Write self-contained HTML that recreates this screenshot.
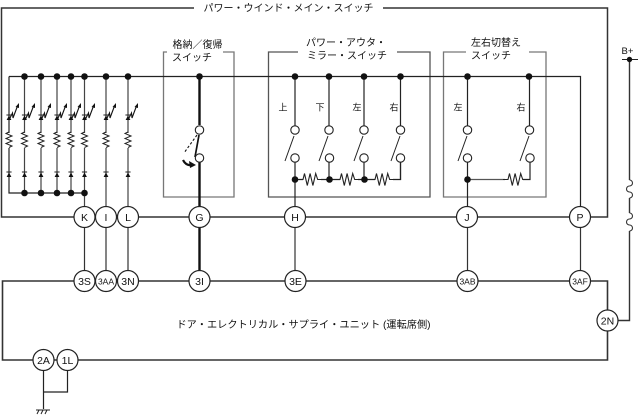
<!DOCTYPE html>
<html lang="ja"><head><meta charset="utf-8"><style>
html,body{margin:0;padding:0;background:#fff}
svg{display:block}
text{font-family:"Liberation Sans","Noto Sans CJK JP",sans-serif;fill:#111}
.t{font-size:10px;text-anchor:middle}
.b{font-size:10.2px;text-anchor:middle}
.s{font-size:9px;text-anchor:middle}
.n{font-size:10.5px;text-anchor:middle}
.n2{font-size:8.5px;text-anchor:middle}
</style></head><body>
<svg width="638" height="416" viewBox="0 0 638 416" xmlns="http://www.w3.org/2000/svg">
<defs>
<g id="led">
<path d="M0 -2.5 L-2.4 2 H2.4Z" fill="#111" stroke="none"/>
<path d="M-2.6 -3 H2.6" stroke="#222" stroke-width="1" fill="none"/>
</g>
<g id="var">
<path d="M0 0 L3.5 -7 L4 -2 L7 -10 L8.5 -14" fill="none" stroke="#111" stroke-width="1.1"/>
<path d="M10 -17 L6.5 -13 L10 -12Z" fill="#111"/>
</g>
<path id="rv" d="M0 0 l-3 1.5 l6 2.5 l-6 2.5 l6 2.5 l-6 2.5 l6 2.5 l-3 1.5" fill="none" stroke="#222" stroke-width="1"/>
<path id="rh" d="M0 0 h5 l1.5 -6 l2.8 12 l2.8 -12 l2.8 12 l2.8 -12 l2 6 h5" fill="none" stroke="#222" stroke-width="1.1"/>
<path id="coil" d="M0 0 a3 3 0 1 1 0 6 a3 3 0 1 0 0 6 a3 3 0 1 1 0 6" fill="none" stroke="#333" stroke-width="1.1"/>
</defs>

<g fill="none" stroke="#333" stroke-width="1.3">
<!-- outer frame -->
<path d="M194 8 H1.5 V217 H607.5 V8 H383" stroke-width="1.5"/>
<!-- sub boxes -->
<path d="M167 52 H163.5 V197 H234 V52 H223" stroke="#777"/>
<path d="M298 52 H268.5 V197 H430 V52 H397" stroke="#555"/>
<path d="M466 52 H443.5 V197 H546 V52 H529" stroke="#777"/>
<!-- bottom frame -->
<path d="M607.5 310 V281 H2.5 V360 H607.5 V331" stroke-width="1.6"/>
<!-- B+ -->
<path d="M622 59.5 H638" stroke="#222" stroke-width="1"/>
<path d="M629.5 59.5 V180 M629.5 198 V213 M629.5 231 V320.5 H618" stroke-width="1.4"/>
</g>
<use href="#coil" x="629.5" y="180"/>
<use href="#coil" x="629.5" y="213"/>
<circle cx="629.5" cy="59.5" r="2.7" fill="#111"/>

<g fill="none" stroke="#222" stroke-width="1.2">
<!-- main bus -->
<path d="M9 76.5 H580.5 V207"/>
<path d="M9 76.5 V193 H84.5"/>
<path d="M24.5 76 V193 M41 76 V193 M57 76 V193 M71 76 V193 M84.5 76 V207 M106 76 V207 M128 76 V207" stroke="#444"/>
<!-- lower connectors -->
<path d="M84.5 227 V271 M106 227 V271 M128 227 V271 M295 227 V271 M467.5 227 V271 M580.5 227 V271" stroke="#333"/>
<path d="M295 76 V125.5 M329 76 V125.5 M364 76 V125.5 M400.5 76 V125.5"/>
<path d="M295 162 V207 M329 162 V180 M364 162 V180 M400.5 162 V180"/>
<path d="M467.5 76 V125.5 M529.5 76 V125.5 M467.5 162 V207 M530 162 V179.5 H521"/>
<path d="M467.5 179.5 H505" stroke="#555"/>
<!-- switch arms -->
<path d="M294 136 L285 161 M328 136 L319 161 M363 136 L354 161 M400 136 L391 161 M467 136 L458 161 M529 136 L520 161" stroke-width="1"/>
<!-- 1L/2A ground -->
<path d="M43.5 370 V409 M67.5 370 V392 H43.5" stroke-width="1.2"/>
<path d="M36 410 H50 M39 410 L37 414 M43 410 L41 414 M47 410 L45 414" stroke-width="1"/>
</g>
<path d="M199.5 76 V125 M199.5 162 V207 M199.5 227 V271" fill="none" stroke="#111" stroke-width="2.4"/>
<path d="M199 135 L195 157" stroke="#111" stroke-width="1.7" fill="none"/>
<path d="M197 135 L184 153" stroke="#111" stroke-width="1.1" stroke-dasharray="2.5 2" fill="none"/>
<path d="M183 160 Q186 166 192 165" stroke="#111" stroke-width="2.2" fill="none"/>
<path d="M196 165 L189 161 L190 168Z" fill="#111"/>

<!-- vertical chain: white breaks + resistors -->
<g fill="#fff" stroke="none">
<rect x="5" y="133" width="8" height="15"/><rect x="20.5" y="133" width="8" height="15"/><rect x="37" y="133" width="8" height="15"/><rect x="53" y="133" width="8" height="15"/><rect x="67" y="133" width="8" height="15"/><rect x="80.5" y="133" width="8" height="15"/><rect x="102" y="133" width="8" height="15"/><rect x="124" y="133" width="8" height="15"/>
</g>
<g>
<use href="#rv" x="9" y="132"/><use href="#rv" x="24.5" y="132"/><use href="#rv" x="41" y="132"/><use href="#rv" x="57" y="132"/><use href="#rv" x="71" y="132"/><use href="#rv" x="84.5" y="132"/><use href="#rv" x="106" y="132"/><use href="#rv" x="128" y="132"/>
</g>
<g>
<use href="#led" x="9" y="118"/><use href="#led" x="24.5" y="118"/><use href="#led" x="41" y="118"/><use href="#led" x="57" y="118"/><use href="#led" x="71" y="118"/><use href="#led" x="84.5" y="118"/><use href="#led" x="106" y="118"/><use href="#led" x="128" y="118"/>
<use href="#led" x="9" y="175"/><use href="#led" x="24.5" y="175"/><use href="#led" x="41" y="175"/><use href="#led" x="57" y="175"/><use href="#led" x="71" y="175"/><use href="#led" x="84.5" y="175"/><use href="#led" x="106" y="175"/><use href="#led" x="128" y="175"/>
</g>
<g>
<use href="#var" x="9" y="120"/><use href="#var" x="25" y="120"/><use href="#var" x="41" y="120"/><use href="#var" x="57" y="120"/><use href="#var" x="71" y="120"/><use href="#var" x="85" y="120"/><use href="#var" x="106" y="120"/><use href="#var" x="128" y="120"/>
</g>

<!-- horizontal resistors -->
<path d="M295 179.5 H400.5 V162" fill="none" stroke="#222" stroke-width="1.2"/>
<g fill="#fff" stroke="none">
<rect x="303" y="172" width="18" height="15"/><rect x="340" y="172" width="18" height="15"/><rect x="375" y="172" width="18" height="15"/><rect x="508" y="172" width="15" height="15"/>
</g>
<use href="#rh" x="298" y="179.5"/>
<use href="#rh" x="335" y="179.5"/>
<use href="#rh" x="370" y="179.5"/>
<use href="#rh" x="503" y="179.5"/>

<!-- dots -->
<g fill="#111">
<circle cx="24.5" cy="76.5" r="3.3"/><circle cx="41" cy="76.5" r="3.3"/><circle cx="57" cy="76.5" r="3.3"/><circle cx="71" cy="76.5" r="3.3"/><circle cx="84.5" cy="76.5" r="3.3"/><circle cx="106" cy="76.5" r="3.3"/><circle cx="128" cy="76.5" r="3.3"/>
<circle cx="24.5" cy="193" r="3.3"/><circle cx="41" cy="193" r="3.3"/><circle cx="57" cy="193" r="3.3"/><circle cx="71" cy="193" r="3.3"/><circle cx="84.5" cy="193" r="3.3"/>
<circle cx="199.5" cy="76.5" r="3.3"/><circle cx="295" cy="76.5" r="3.3"/><circle cx="329" cy="76.5" r="3.3"/><circle cx="364" cy="76.5" r="3.3"/><circle cx="400.5" cy="76.5" r="3.3"/><circle cx="467.5" cy="76.5" r="3.3"/><circle cx="529" cy="76.5" r="3.3"/>
<circle cx="295" cy="179.5" r="3.3"/><circle cx="329.5" cy="179.5" r="3.3"/><circle cx="364.5" cy="179.5" r="3.3"/><circle cx="467.5" cy="179.5" r="3.3"/>
</g>

<!-- open terminals -->
<g fill="#fff" stroke="#222" stroke-width="1.1">
<circle cx="199.5" cy="130" r="4.2"/><circle cx="199.5" cy="158" r="4.2"/>
<circle cx="295" cy="130" r="4.2"/><circle cx="295" cy="158" r="4.2"/>
<circle cx="329" cy="130" r="4.2"/><circle cx="329.5" cy="158" r="4.2"/>
<circle cx="364" cy="130" r="4.2"/><circle cx="364" cy="158" r="4.2"/>
<circle cx="400.5" cy="130" r="4.2"/><circle cx="400.5" cy="158" r="4.2"/>
<circle cx="467.5" cy="130" r="4.2"/><circle cx="467.5" cy="158" r="4.2"/>
<circle cx="529.5" cy="130" r="4.2"/><circle cx="530" cy="158" r="4.2"/>
</g>

<!-- connector circles -->
<g fill="#fff" stroke="#222" stroke-width="1.2">
<circle cx="84.5" cy="217" r="10.5"/><circle cx="106" cy="217" r="10.5"/><circle cx="128" cy="217" r="10.5"/><circle cx="199.5" cy="217" r="10.5"/><circle cx="295" cy="217" r="10.5"/><circle cx="467" cy="217" r="10.5"/><circle cx="580" cy="217" r="10.5"/>
<circle cx="84.5" cy="281" r="10.5"/><circle cx="106" cy="281" r="10.5"/><circle cx="128" cy="281" r="10.5"/><circle cx="199.5" cy="281" r="10.5"/><circle cx="295.5" cy="281" r="10.5"/><circle cx="467.5" cy="281" r="10.5"/><circle cx="580" cy="281" r="10.5"/>
<circle cx="607.5" cy="320.5" r="10.5"/><circle cx="43.5" cy="360" r="10.5"/><circle cx="67.5" cy="360" r="10.5"/>
</g>

<!-- connector labels -->
<text class="n" x="84.5" y="221">K</text><text class="n" x="106" y="221">I</text><text class="n" x="128" y="221">L</text><text class="n" x="199.5" y="221">G</text><text class="n" x="295" y="221">H</text><text class="n" x="467" y="221">J</text><text class="n" x="580" y="221">P</text>
<text class="n" x="84.5" y="285">3S</text><text class="n2" x="106" y="284.5">3AA</text><text class="n" x="128" y="285">3N</text><text class="n" x="199.5" y="285">3I</text><text class="n" x="295.5" y="285">3E</text><text class="n2" x="467.5" y="284.5">3AB</text><text class="n2" x="580" y="284.5">3AF</text>
<text class="n" x="607.5" y="324.5">2N</text><text class="n" x="43.5" y="364">2A</text><text class="n" x="67.5" y="364">1L</text>

<!-- titles -->
<text class="t" x="288.5" y="11.5">パワー・ウインド・メイン・スイッチ</text>
<text class="t" x="197.5" y="48">格納／復帰</text>
<text class="t" x="192" y="61">スイッチ</text>
<text class="t" x="346" y="46">パワー・アウタ・</text>
<text class="t" x="347" y="59">ミラー・スイッチ</text>
<text class="t" x="496" y="46">左右切替え</text>
<text class="t" x="491" y="59">スイッチ</text>
<text class="s" x="283" y="110.5">上</text><text class="s" x="320" y="110.5">下</text><text class="s" x="357" y="110.5">左</text><text class="s" x="394" y="110.5">右</text>
<text class="s" x="458" y="110.5">左</text><text class="s" x="521" y="110.5">右</text>
<text x="627.5" y="54" style="font-size:9.5px;text-anchor:middle">B+</text>
<text class="b" x="303.5" y="328">ドア・エレクトリカル・サプライ・ユニット (運転席側)</text>
</svg>
</body></html>
